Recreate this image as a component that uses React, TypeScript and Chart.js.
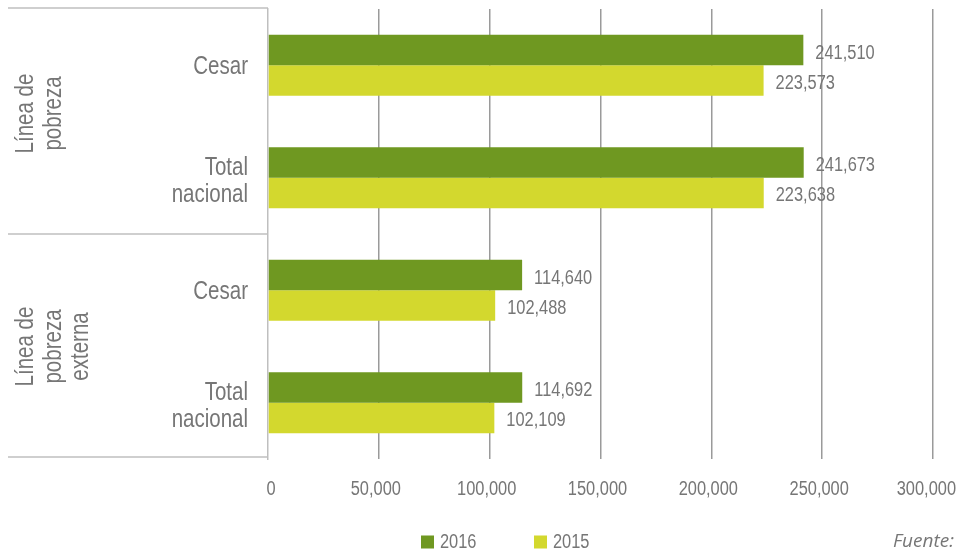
import React, { useEffect, useRef } from "react";
import { Chart, registerables } from "chart.js";

Chart.register(...registerables);

const categories: string[][] = [["Cesar"], ["Total", "nacional"], ["Cesar"], ["Total", "nacional"]];
const series2016: number[] = [241510, 241673, 114640, 114692];
const series2015: number[] = [223573, 223638, 102488, 102109];
const seriesNames: string[] = ["2016", "2015"];
const groupLabels: string[][] = [["Línea de", "pobreza"], ["Línea de", "pobreza", "externa"]];
const xMin = 0;
const xMax = 300000;
const xStep = 50000;
const sourceText = "Fuente:";

const COLORS = ["#6f9821", "#d3d82e"];
const TEXT = "#767676";
const FAMILY = "'Liberation Sans', Arial, sans-serif";
const NARROW_SCALE = 0.82;

function narrowText(
  ctx: CanvasRenderingContext2D,
  text: string,
  x: number,
  y: number,
  size: number,
  align: CanvasTextAlign
) {
  ctx.save();
  ctx.translate(x, y);
  ctx.scale(NARROW_SCALE, 1);
  ctx.font = `${size}px ${FAMILY}`;
  ctx.textAlign = align;
  ctx.textBaseline = "alphabetic";
  ctx.fillText(text, 0, 0);
  ctx.restore();
}

function narrowWidth(ctx: CanvasRenderingContext2D, text: string, size: number) {
  ctx.save();
  ctx.font = `${size}px ${FAMILY}`;
  const w = ctx.measureText(text).width * NARROW_SCALE;
  ctx.restore();
  return w;
}

const fmt = (v: number) => v.toLocaleString("en-US");

const decorPlugin = {
  id: "decor",
  afterDraw(chart: any) {
    const ctx = chart.ctx as CanvasRenderingContext2D;
    const area = chart.chartArea;
    const yScale = chart.scales.y;
    const xScale = chart.scales.x;
    ctx.save();
    // frame lines on the left
    ctx.strokeStyle = "#bfbfbf";
    ctx.lineWidth = 1.5;
    const mid = (yScale.getPixelForValue(1) + yScale.getPixelForValue(2)) / 2;
    [area.top - 1, mid, area.bottom - 2].forEach((yy: number) => {
      ctx.beginPath();
      ctx.moveTo(8, yy);
      ctx.lineTo(area.left, yy);
      ctx.stroke();
    });
    ctx.fillStyle = TEXT;
    // group labels (rotated)
    const centers = [
      (yScale.getPixelForValue(0) + yScale.getPixelForValue(1)) / 2 - 8,
      (yScale.getPixelForValue(2) + yScale.getPixelForValue(3)) / 2,
    ];
    groupLabels.forEach((lines, gi) => {
      ctx.save();
      ctx.translate(33, centers[gi]);
      ctx.rotate(-Math.PI / 2);
      lines.forEach((ln, li) => narrowText(ctx, ln, 0, li * 27.5, 25, "center"));
      ctx.restore();
    });
    // category labels
    (chart.data.labels as string[][]).forEach((lines, i) => {
      const cy = yScale.getPixelForTick(i);
      const n = lines.length;
      const shift = n > 1 ? 1.5 : 0;
      lines.forEach((ln, li) => {
        narrowText(ctx, ln, area.left - 20, cy + 9 + shift + (li - (n - 1) / 2) * 27, 25, "right");
      });
    });
    // x tick labels
    xScale.ticks.forEach((t: any, i: number) => {
      const label = fmt(t.value);
      let px = xScale.getPixelForTick(i) + (t.value === 0 ? 3 : -3);
      const w = narrowWidth(ctx, label, 20);
      if (px + w / 2 > chart.width - 5) px = chart.width - 5 - w / 2;
      narrowText(ctx, label, px, 495, 20, "center");
    });
    // value labels
    chart.data.datasets.forEach((ds: any, di: number) => {
      const meta = chart.getDatasetMeta(di);
      meta.data.forEach((el: any, i: number) => {
        narrowText(ctx, fmt(ds.data[i] as number), el.x + 12, el.y + 8.5, 20, "left");
      });
    });
    // legend
    const legendX = [421, 534];
    chart.data.datasets.forEach((ds: any, di: number) => {
      ctx.fillStyle = ds.backgroundColor;
      ctx.fillRect(legendX[di], 535.5, 13, 13);
      ctx.fillStyle = TEXT;
      narrowText(ctx, ds.label, legendX[di] + 19, 548, 20, "left");
    });
    // source
    ctx.font = `italic 19px 'Open Sans', sans-serif`;
    ctx.fillStyle = TEXT;
    ctx.textAlign = "left";
    ctx.textBaseline = "alphabetic";
    ctx.fillText(sourceText, 893, 547);
    ctx.restore();
  },
};

export default function App() {
  const ref = useRef<HTMLCanvasElement | null>(null);
  useEffect(() => {
    if (!ref.current) return;
    const chart = new Chart(ref.current, {
      type: "bar",
      data: {
        labels: categories,
        datasets: [
          { label: seriesNames[0], data: series2016, backgroundColor: COLORS[0] },
          { label: seriesNames[1], data: series2015, backgroundColor: COLORS[1] },
        ],
      },
      options: {
        indexAxis: "y",
        animation: false,
        responsive: false,
        maintainAspectRatio: false,
        layout: { padding: { left: 0, right: 28, top: 9, bottom: 0 } },
        datasets: { bar: { categoryPercentage: 0.542, barPercentage: 1 } },
        plugins: { legend: { display: false }, tooltip: { enabled: false } },
        scales: {
          x: {
            min: xMin,
            max: xMax,
            border: { display: false },
            grid: {
              drawTicks: false,
              lineWidth: 1.5,
              color: (c: any) => (c.tick && c.tick.value === 0 ? "rgba(0,0,0,0)" : "#9a9a9a"),
            },
            ticks: { display: false, stepSize: xStep },
            afterFit: (s: any) => {
              s.height = 94;
              s.paddingLeft = 0;
              s.paddingRight = 0;
            },
          },
          y: {
            border: { display: true, color: "#bfbfbf", width: 1.5 },
            grid: { display: false, drawTicks: false },
            ticks: { display: false },
            afterFit: (s: any) => {
              s.width = 268;
              s.paddingTop = 0;
              s.paddingBottom = 0;
            },
          },
        },
      },
      plugins: [decorPlugin],
    } as any);
    return () => chart.destroy();
  }, []);
  return (
    <div style={{ position: "fixed", left: 0, top: 0, width: 961, height: 553, background: "#fff" }}>
      <canvas ref={ref} width={961} height={553} style={{ width: 961, height: 553 }} />
    </div>
  );
}
